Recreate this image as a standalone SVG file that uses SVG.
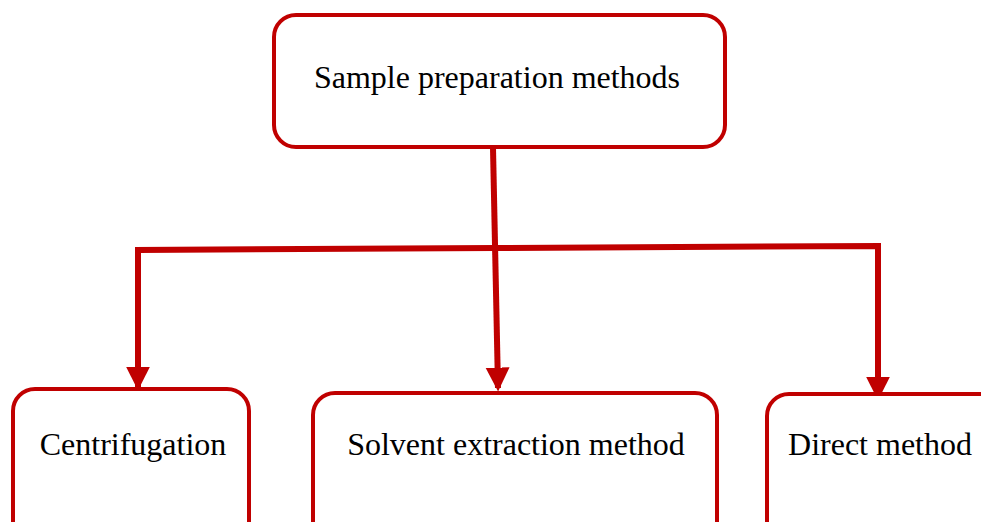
<svg xmlns="http://www.w3.org/2000/svg" width="981" height="522" viewBox="0 0 981 522">
<style>
.box{fill:#fff;stroke:#c00000;stroke-width:4}
.t{font-family:"Liberation Serif","Times New Roman",serif;font-size:32px;fill:#000}
.c{fill:none;stroke:#c00000;stroke-width:6;stroke-linejoin:miter}
</style>
<defs>
<marker id="ah" markerWidth="4.2" markerHeight="4.2" refX="3.4" refY="2" orient="auto" markerUnits="strokeWidth">
<path d="M0,0 L4,2 L0,4 Z" fill="#c00000"/>
</marker>
</defs>
<rect width="981" height="522" fill="#fff"/>
<g id="connectors">
<path class="c" d="M493,148 L498,388" marker-end="url(#ah)"/>
<path class="c" d="M495,248 L138,250 L138,387" marker-end="url(#ah)"/>
<path class="c" d="M492,248 L878,246 L878,397" marker-end="url(#ah)"/>
</g>
<g id="root">
<rect class="box" x="274" y="15" width="451" height="132" rx="22"/>
<text class="t" x="497" y="88" text-anchor="middle">Sample preparation methods</text>
</g>
<g id="centrifugation">
<rect class="box" x="13" y="389" width="236" height="160" rx="22"/>
<text class="t" x="133" y="455" text-anchor="middle">Centrifugation</text>
</g>
<g id="solvent">
<rect class="box" x="313" y="393" width="404" height="160" rx="22"/>
<text class="t" x="516" y="455" text-anchor="middle">Solvent extraction method</text>
</g>
<g id="direct">
<rect class="box" x="767" y="394" width="240" height="160" rx="22"/>
<text class="t" x="880" y="455" text-anchor="middle">Direct method</text>
</g>
</svg>
